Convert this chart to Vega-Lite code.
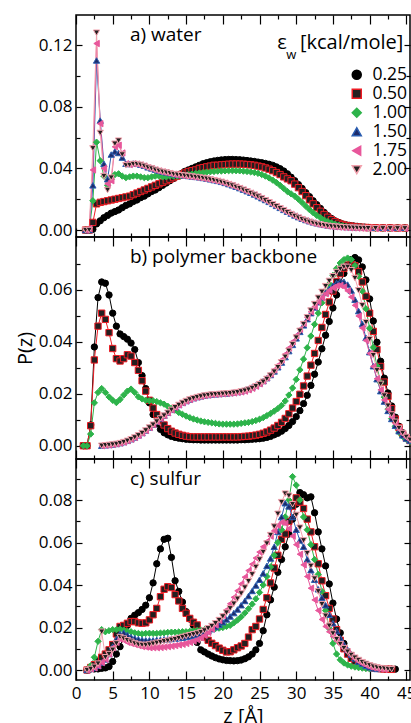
{
"$schema": "https://vega.github.io/schema/vega-lite/v6.json",
"background": "white",
"padding": {"left": 14, "top": 13, "right": 0, "bottom": 0},
"spacing": 0,
"bounds": "flush",
"config": {
  "font": "Open Sans",
  "view": {"stroke": "black", "strokeWidth": 1.5},
  "axis": {"domain": false, "grid": false, "tickColor": "black", "tickWidth": 1.2, "labelColor": "black", "labelFontSize": 17, "labelFont": "Open Sans", "titleColor": "black", "titleFontWeight": "normal", "titleFont": "Open Sans", "titleFontSize": 20, "labelOverlap": false, "labelFlush": false, "labelBound": false},
  "legend": {"orient": "none", "legendX": 272, "legendY": 51, "title": null, "symbolSize": 81, "symbolStrokeWidth": 1.5, "labelOffset": 7, "labelFontSize": 17.5, "labelFont": "Open Sans", "labelColor": "black", "rowPadding": 0, "padding": 0, "symbolOpacity": 1},
  "text": {"font": "Open Sans", "color": "black"}
},
"datasets": {
"a": [
{"s":"0.25","z":1.3,"v":0},{"s":"0.25","z":1.8,"v":0},{"s":"0.25","z":2.3,"v":0.0005},{"s":"0.25","z":2.8,"v":0.004},{"s":"0.25","z":3.3,"v":0.006},{"s":"0.25","z":3.8,"v":0.008},{"s":"0.25","z":4.3,"v":0.0095},{"s":"0.25","z":4.8,"v":0.011},{"s":"0.25","z":5.3,"v":0.012},{"s":"0.25","z":5.8,"v":0.013},{"s":"0.25","z":6.3,"v":0.0145},{"s":"0.25","z":6.8,"v":0.016},{"s":"0.25","z":7.3,"v":0.017},{"s":"0.25","z":7.8,"v":0.0185},{"s":"0.25","z":8.3,"v":0.0195},{"s":"0.25","z":8.8,"v":0.021},{"s":"0.25","z":9.3,"v":0.022},{"s":"0.25","z":9.8,"v":0.0235},{"s":"0.25","z":10.3,"v":0.025},{"s":"0.25","z":10.8,"v":0.026},{"s":"0.25","z":11.3,"v":0.0275},{"s":"0.25","z":11.8,"v":0.029},{"s":"0.25","z":12.3,"v":0.0305},{"s":"0.25","z":12.8,"v":0.032},{"s":"0.25","z":13.3,"v":0.0335},{"s":"0.25","z":13.8,"v":0.035},{"s":"0.25","z":14.3,"v":0.0365},{"s":"0.25","z":14.8,"v":0.038},{"s":"0.25","z":15.3,"v":0.039},{"s":"0.25","z":15.8,"v":0.04},{"s":"0.25","z":16.3,"v":0.041},{"s":"0.25","z":16.8,"v":0.042},{"s":"0.25","z":17.3,"v":0.043},{"s":"0.25","z":17.8,"v":0.0437},{"s":"0.25","z":18.3,"v":0.0443},{"s":"0.25","z":18.8,"v":0.0448},{"s":"0.25","z":19.3,"v":0.0452},{"s":"0.25","z":19.8,"v":0.0455},{"s":"0.25","z":20.3,"v":0.0457},{"s":"0.25","z":20.8,"v":0.0458},{"s":"0.25","z":21.3,"v":0.0458},{"s":"0.25","z":21.8,"v":0.0457},{"s":"0.25","z":22.3,"v":0.0456},{"s":"0.25","z":22.8,"v":0.0454},{"s":"0.25","z":23.3,"v":0.0451},{"s":"0.25","z":23.8,"v":0.0448},{"s":"0.25","z":24.3,"v":0.0445},{"s":"0.25","z":24.8,"v":0.0441},{"s":"0.25","z":25.3,"v":0.0437},{"s":"0.25","z":25.8,"v":0.0432},{"s":"0.25","z":26.3,"v":0.0427},{"s":"0.25","z":26.8,"v":0.042},{"s":"0.25","z":27.3,"v":0.041},{"s":"0.25","z":27.8,"v":0.0398},{"s":"0.25","z":28.3,"v":0.0383},{"s":"0.25","z":28.8,"v":0.0365},{"s":"0.25","z":29.3,"v":0.0343},{"s":"0.25","z":29.8,"v":0.032},{"s":"0.25","z":30.3,"v":0.0295},{"s":"0.25","z":30.8,"v":0.027},{"s":"0.25","z":31.3,"v":0.0243},{"s":"0.25","z":31.8,"v":0.0217},{"s":"0.25","z":32.3,"v":0.019},{"s":"0.25","z":32.8,"v":0.0165},{"s":"0.25","z":33.3,"v":0.014},{"s":"0.25","z":33.8,"v":0.0115},{"s":"0.25","z":34.3,"v":0.0093},{"s":"0.25","z":34.8,"v":0.0075},{"s":"0.25","z":35.3,"v":0.006},{"s":"0.25","z":35.8,"v":0.0049},{"s":"0.25","z":36.3,"v":0.004},{"s":"0.25","z":36.8,"v":0.0034},{"s":"0.25","z":37.3,"v":0.003},{"s":"0.25","z":37.8,"v":0.0027},{"s":"0.25","z":38.3,"v":0.0024},{"s":"0.25","z":38.8,"v":0.0021},{"s":"0.25","z":39.3,"v":0.0019},{"s":"0.25","z":39.8,"v":0.0017},{"s":"0.25","z":40.8,"v":0.0015},{"s":"0.25","z":41.8,"v":0.0014},{"s":"0.25","z":42.8,"v":0.0014},{"s":"0.25","z":43.8,"v":0.0014},{"s":"0.25","z":44.8,"v":0.0014},
{"s":"0.50","z":1.3,"v":0},{"s":"0.50","z":1.8,"v":0},{"s":"0.50","z":2.3,"v":0.005},{"s":"0.50","z":2.8,"v":0.017},{"s":"0.50","z":3.3,"v":0.018},{"s":"0.50","z":3.8,"v":0.0185},{"s":"0.50","z":4.3,"v":0.019},{"s":"0.50","z":4.8,"v":0.0195},{"s":"0.50","z":5.3,"v":0.02},{"s":"0.50","z":5.8,"v":0.0205},{"s":"0.50","z":6.3,"v":0.021},{"s":"0.50","z":6.8,"v":0.0215},{"s":"0.50","z":7.3,"v":0.022},{"s":"0.50","z":7.8,"v":0.023},{"s":"0.50","z":8.3,"v":0.024},{"s":"0.50","z":8.8,"v":0.025},{"s":"0.50","z":9.3,"v":0.026},{"s":"0.50","z":9.8,"v":0.027},{"s":"0.50","z":10.3,"v":0.028},{"s":"0.50","z":10.8,"v":0.029},{"s":"0.50","z":11.3,"v":0.03},{"s":"0.50","z":11.8,"v":0.031},{"s":"0.50","z":12.3,"v":0.032},{"s":"0.50","z":12.8,"v":0.033},{"s":"0.50","z":13.3,"v":0.034},{"s":"0.50","z":13.8,"v":0.035},{"s":"0.50","z":14.3,"v":0.036},{"s":"0.50","z":14.8,"v":0.037},{"s":"0.50","z":15.3,"v":0.038},{"s":"0.50","z":15.8,"v":0.0385},{"s":"0.50","z":16.3,"v":0.039},{"s":"0.50","z":16.8,"v":0.04},{"s":"0.50","z":17.3,"v":0.0405},{"s":"0.50","z":17.8,"v":0.041},{"s":"0.50","z":18.3,"v":0.0415},{"s":"0.50","z":18.8,"v":0.042},{"s":"0.50","z":19.3,"v":0.042},{"s":"0.50","z":19.8,"v":0.0423},{"s":"0.50","z":20.3,"v":0.0425},{"s":"0.50","z":20.8,"v":0.0427},{"s":"0.50","z":21.3,"v":0.0428},{"s":"0.50","z":21.8,"v":0.0428},{"s":"0.50","z":22.3,"v":0.0428},{"s":"0.50","z":22.8,"v":0.0427},{"s":"0.50","z":23.3,"v":0.0425},{"s":"0.50","z":23.8,"v":0.0423},{"s":"0.50","z":24.3,"v":0.042},{"s":"0.50","z":24.8,"v":0.0415},{"s":"0.50","z":25.3,"v":0.041},{"s":"0.50","z":25.8,"v":0.0403},{"s":"0.50","z":26.3,"v":0.0395},{"s":"0.50","z":26.8,"v":0.0385},{"s":"0.50","z":27.3,"v":0.0373},{"s":"0.50","z":27.8,"v":0.036},{"s":"0.50","z":28.3,"v":0.0345},{"s":"0.50","z":28.8,"v":0.0332},{"s":"0.50","z":29.3,"v":0.032},{"s":"0.50","z":29.8,"v":0.0298},{"s":"0.50","z":30.3,"v":0.0275},{"s":"0.50","z":30.8,"v":0.025},{"s":"0.50","z":31.3,"v":0.0223},{"s":"0.50","z":31.8,"v":0.0196},{"s":"0.50","z":32.3,"v":0.017},{"s":"0.50","z":32.8,"v":0.0145},{"s":"0.50","z":33.3,"v":0.0122},{"s":"0.50","z":33.8,"v":0.0101},{"s":"0.50","z":34.3,"v":0.0083},{"s":"0.50","z":34.8,"v":0.0067},{"s":"0.50","z":35.3,"v":0.0054},{"s":"0.50","z":35.8,"v":0.0044},{"s":"0.50","z":36.3,"v":0.0036},{"s":"0.50","z":36.8,"v":0.003},{"s":"0.50","z":37.3,"v":0.0026},{"s":"0.50","z":37.8,"v":0.0023},{"s":"0.50","z":38.3,"v":0.002},{"s":"0.50","z":38.8,"v":0.0018},{"s":"0.50","z":39.3,"v":0.0017},{"s":"0.50","z":39.8,"v":0.0016},{"s":"0.50","z":40.8,"v":0.0015},{"s":"0.50","z":41.8,"v":0.0014},{"s":"0.50","z":42.8,"v":0.0014},{"s":"0.50","z":43.8,"v":0.0013},{"s":"0.50","z":44.8,"v":0.0013},
{"s":"1.00","z":1.3,"v":0},{"s":"1.00","z":1.8,"v":0},{"s":"1.00","z":2.3,"v":0.019},{"s":"1.00","z":2.8,"v":0.057},{"s":"1.00","z":3.3,"v":0.045},{"s":"1.00","z":3.8,"v":0.035},{"s":"1.00","z":4.3,"v":0.029},{"s":"1.00","z":4.8,"v":0.033},{"s":"1.00","z":5.3,"v":0.036},{"s":"1.00","z":5.8,"v":0.0365},{"s":"1.00","z":6.3,"v":0.035},{"s":"1.00","z":6.8,"v":0.034},{"s":"1.00","z":7.3,"v":0.0345},{"s":"1.00","z":7.8,"v":0.035},{"s":"1.00","z":8.3,"v":0.035},{"s":"1.00","z":8.8,"v":0.0345},{"s":"1.00","z":9.3,"v":0.034},{"s":"1.00","z":9.8,"v":0.034},{"s":"1.00","z":10.3,"v":0.0345},{"s":"1.00","z":10.8,"v":0.035},{"s":"1.00","z":11.3,"v":0.035},{"s":"1.00","z":11.8,"v":0.0345},{"s":"1.00","z":12.3,"v":0.0345},{"s":"1.00","z":12.8,"v":0.035},{"s":"1.00","z":13.3,"v":0.035},{"s":"1.00","z":13.8,"v":0.035},{"s":"1.00","z":14.3,"v":0.0352},{"s":"1.00","z":14.8,"v":0.0355},{"s":"1.00","z":15.3,"v":0.036},{"s":"1.00","z":15.8,"v":0.0363},{"s":"1.00","z":16.3,"v":0.0367},{"s":"1.00","z":16.8,"v":0.037},{"s":"1.00","z":17.3,"v":0.0373},{"s":"1.00","z":17.8,"v":0.0376},{"s":"1.00","z":18.3,"v":0.0378},{"s":"1.00","z":18.8,"v":0.038},{"s":"1.00","z":19.3,"v":0.0382},{"s":"1.00","z":19.8,"v":0.0383},{"s":"1.00","z":20.3,"v":0.0384},{"s":"1.00","z":20.8,"v":0.0385},{"s":"1.00","z":21.3,"v":0.0385},{"s":"1.00","z":21.8,"v":0.0385},{"s":"1.00","z":22.3,"v":0.0384},{"s":"1.00","z":22.8,"v":0.0382},{"s":"1.00","z":23.3,"v":0.038},{"s":"1.00","z":23.8,"v":0.0377},{"s":"1.00","z":24.3,"v":0.0373},{"s":"1.00","z":24.8,"v":0.0368},{"s":"1.00","z":25.3,"v":0.036},{"s":"1.00","z":25.8,"v":0.035},{"s":"1.00","z":26.3,"v":0.0338},{"s":"1.00","z":26.8,"v":0.0324},{"s":"1.00","z":27.3,"v":0.0308},{"s":"1.00","z":27.8,"v":0.029},{"s":"1.00","z":28.3,"v":0.027},{"s":"1.00","z":28.8,"v":0.025},{"s":"1.00","z":29.3,"v":0.0235},{"s":"1.00","z":29.8,"v":0.022},{"s":"1.00","z":30.3,"v":0.02},{"s":"1.00","z":30.8,"v":0.0178},{"s":"1.00","z":31.3,"v":0.0155},{"s":"1.00","z":31.8,"v":0.0133},{"s":"1.00","z":32.3,"v":0.0113},{"s":"1.00","z":32.8,"v":0.0095},{"s":"1.00","z":33.3,"v":0.008},{"s":"1.00","z":33.8,"v":0.0066},{"s":"1.00","z":34.3,"v":0.0055},{"s":"1.00","z":34.8,"v":0.0046},{"s":"1.00","z":35.3,"v":0.0038},{"s":"1.00","z":35.8,"v":0.0032},{"s":"1.00","z":36.3,"v":0.0027},{"s":"1.00","z":36.8,"v":0.0023},{"s":"1.00","z":37.3,"v":0.002},{"s":"1.00","z":37.8,"v":0.0018},{"s":"1.00","z":38.3,"v":0.0016},{"s":"1.00","z":38.8,"v":0.0015},{"s":"1.00","z":39.3,"v":0.0014},{"s":"1.00","z":39.8,"v":0.0013},{"s":"1.00","z":40.8,"v":0.0012},{"s":"1.00","z":41.8,"v":0.0012},{"s":"1.00","z":42.8,"v":0.0012},{"s":"1.00","z":43.8,"v":0.0012},{"s":"1.00","z":44.8,"v":0.0012},
{"s":"1.50","z":1.3,"v":0},{"s":"1.50","z":1.8,"v":0},{"s":"1.50","z":2.3,"v":0.029},{"s":"1.50","z":2.8,"v":0.11},{"s":"1.50","z":3.3,"v":0.071},{"s":"1.50","z":3.8,"v":0.043},{"s":"1.50","z":4.3,"v":0.033},{"s":"1.50","z":4.8,"v":0.049},{"s":"1.50","z":5.3,"v":0.051},{"s":"1.50","z":5.8,"v":0.05},{"s":"1.50","z":6.3,"v":0.047},{"s":"1.50","z":6.8,"v":0.043},{"s":"1.50","z":7.3,"v":0.0428},{"s":"1.50","z":7.8,"v":0.0432},{"s":"1.50","z":8.3,"v":0.043},{"s":"1.50","z":8.8,"v":0.0424},{"s":"1.50","z":9.3,"v":0.0417},{"s":"1.50","z":9.8,"v":0.0407},{"s":"1.50","z":10.3,"v":0.04},{"s":"1.50","z":10.8,"v":0.0392},{"s":"1.50","z":11.3,"v":0.0385},{"s":"1.50","z":11.8,"v":0.0379},{"s":"1.50","z":12.3,"v":0.0374},{"s":"1.50","z":12.8,"v":0.0369},{"s":"1.50","z":13.3,"v":0.0364},{"s":"1.50","z":13.8,"v":0.036},{"s":"1.50","z":14.3,"v":0.0357},{"s":"1.50","z":14.8,"v":0.0354},{"s":"1.50","z":15.3,"v":0.0351},{"s":"1.50","z":15.8,"v":0.0348},{"s":"1.50","z":16.3,"v":0.0345},{"s":"1.50","z":16.8,"v":0.0342},{"s":"1.50","z":17.3,"v":0.0338},{"s":"1.50","z":17.8,"v":0.0334},{"s":"1.50","z":18.3,"v":0.0329},{"s":"1.50","z":18.8,"v":0.0324},{"s":"1.50","z":19.3,"v":0.0319},{"s":"1.50","z":19.8,"v":0.0313},{"s":"1.50","z":20.3,"v":0.0306},{"s":"1.50","z":20.8,"v":0.0298},{"s":"1.50","z":21.3,"v":0.029},{"s":"1.50","z":21.8,"v":0.0281},{"s":"1.50","z":22.3,"v":0.0272},{"s":"1.50","z":22.8,"v":0.0262},{"s":"1.50","z":23.3,"v":0.0252},{"s":"1.50","z":23.8,"v":0.0242},{"s":"1.50","z":24.3,"v":0.0231},{"s":"1.50","z":24.8,"v":0.0219},{"s":"1.50","z":25.3,"v":0.0207},{"s":"1.50","z":25.8,"v":0.0195},{"s":"1.50","z":26.3,"v":0.0183},{"s":"1.50","z":26.8,"v":0.017},{"s":"1.50","z":27.3,"v":0.0157},{"s":"1.50","z":27.8,"v":0.0144},{"s":"1.50","z":28.3,"v":0.0131},{"s":"1.50","z":28.8,"v":0.0119},{"s":"1.50","z":29.3,"v":0.0107},{"s":"1.50","z":29.8,"v":0.0095},{"s":"1.50","z":30.3,"v":0.0084},{"s":"1.50","z":30.8,"v":0.0074},{"s":"1.50","z":31.3,"v":0.0065},{"s":"1.50","z":31.8,"v":0.0057},{"s":"1.50","z":32.3,"v":0.005},{"s":"1.50","z":32.8,"v":0.0044},{"s":"1.50","z":33.3,"v":0.0039},{"s":"1.50","z":33.8,"v":0.0034},{"s":"1.50","z":34.3,"v":0.003},{"s":"1.50","z":34.8,"v":0.0027},{"s":"1.50","z":35.3,"v":0.0025},{"s":"1.50","z":35.8,"v":0.0023},{"s":"1.50","z":36.3,"v":0.0021},{"s":"1.50","z":36.8,"v":0.002},{"s":"1.50","z":37.3,"v":0.0019},{"s":"1.50","z":37.8,"v":0.0018},{"s":"1.50","z":38.3,"v":0.0017},{"s":"1.50","z":38.8,"v":0.0016},{"s":"1.50","z":39.3,"v":0.0016},{"s":"1.50","z":39.8,"v":0.0015},{"s":"1.50","z":40.8,"v":0.0015},{"s":"1.50","z":41.8,"v":0.0015},{"s":"1.50","z":42.8,"v":0.0015},{"s":"1.50","z":43.8,"v":0.0015},{"s":"1.50","z":44.8,"v":0.0015},
{"s":"1.75","z":1.3,"v":0},{"s":"1.75","z":1.8,"v":0.001},{"s":"1.75","z":2.3,"v":0.039},{"s":"1.75","z":2.8,"v":0.121},{"s":"1.75","z":3.3,"v":0.069},{"s":"1.75","z":3.8,"v":0.04},{"s":"1.75","z":4.3,"v":0.03},{"s":"1.75","z":4.8,"v":0.032},{"s":"1.75","z":5.3,"v":0.054},{"s":"1.75","z":5.8,"v":0.055},{"s":"1.75","z":6.3,"v":0.05},{"s":"1.75","z":6.8,"v":0.043},{"s":"1.75","z":7.3,"v":0.0425},{"s":"1.75","z":7.8,"v":0.043},{"s":"1.75","z":8.3,"v":0.0428},{"s":"1.75","z":8.8,"v":0.0422},{"s":"1.75","z":9.3,"v":0.0415},{"s":"1.75","z":9.8,"v":0.0405},{"s":"1.75","z":10.3,"v":0.0398},{"s":"1.75","z":10.8,"v":0.039},{"s":"1.75","z":11.3,"v":0.0383},{"s":"1.75","z":11.8,"v":0.0377},{"s":"1.75","z":12.3,"v":0.0372},{"s":"1.75","z":12.8,"v":0.0367},{"s":"1.75","z":13.3,"v":0.0362},{"s":"1.75","z":13.8,"v":0.0358},{"s":"1.75","z":14.3,"v":0.0355},{"s":"1.75","z":14.8,"v":0.0352},{"s":"1.75","z":15.3,"v":0.0349},{"s":"1.75","z":15.8,"v":0.0346},{"s":"1.75","z":16.3,"v":0.0343},{"s":"1.75","z":16.8,"v":0.034},{"s":"1.75","z":17.3,"v":0.0336},{"s":"1.75","z":17.8,"v":0.0332},{"s":"1.75","z":18.3,"v":0.0327},{"s":"1.75","z":18.8,"v":0.0322},{"s":"1.75","z":19.3,"v":0.0317},{"s":"1.75","z":19.8,"v":0.0311},{"s":"1.75","z":20.3,"v":0.0304},{"s":"1.75","z":20.8,"v":0.0296},{"s":"1.75","z":21.3,"v":0.0288},{"s":"1.75","z":21.8,"v":0.0279},{"s":"1.75","z":22.3,"v":0.027},{"s":"1.75","z":22.8,"v":0.026},{"s":"1.75","z":23.3,"v":0.025},{"s":"1.75","z":23.8,"v":0.0239},{"s":"1.75","z":24.3,"v":0.0228},{"s":"1.75","z":24.8,"v":0.0216},{"s":"1.75","z":25.3,"v":0.0204},{"s":"1.75","z":25.8,"v":0.0192},{"s":"1.75","z":26.3,"v":0.0179},{"s":"1.75","z":26.8,"v":0.0166},{"s":"1.75","z":27.3,"v":0.0153},{"s":"1.75","z":27.8,"v":0.014},{"s":"1.75","z":28.3,"v":0.0127},{"s":"1.75","z":28.8,"v":0.0114},{"s":"1.75","z":29.3,"v":0.0102},{"s":"1.75","z":29.8,"v":0.009},{"s":"1.75","z":30.3,"v":0.0079},{"s":"1.75","z":30.8,"v":0.0069},{"s":"1.75","z":31.3,"v":0.006},{"s":"1.75","z":31.8,"v":0.0052},{"s":"1.75","z":32.3,"v":0.0045},{"s":"1.75","z":32.8,"v":0.0039},{"s":"1.75","z":33.3,"v":0.0034},{"s":"1.75","z":33.8,"v":0.003},{"s":"1.75","z":34.3,"v":0.0026},{"s":"1.75","z":34.8,"v":0.0023},{"s":"1.75","z":35.3,"v":0.0021},{"s":"1.75","z":35.8,"v":0.0019},{"s":"1.75","z":36.3,"v":0.0017},{"s":"1.75","z":36.8,"v":0.0016},{"s":"1.75","z":37.3,"v":0.0015},{"s":"1.75","z":37.8,"v":0.0014},{"s":"1.75","z":38.3,"v":0.0013},{"s":"1.75","z":38.8,"v":0.0013},{"s":"1.75","z":39.3,"v":0.0012},{"s":"1.75","z":39.8,"v":0.0012},{"s":"1.75","z":40.8,"v":0.0011},{"s":"1.75","z":41.8,"v":0.0011},{"s":"1.75","z":42.8,"v":0.0011},{"s":"1.75","z":43.8,"v":0.0011},{"s":"1.75","z":44.8,"v":0.0011},
{"s":"2.00","z":1.3,"v":0},{"s":"2.00","z":1.8,"v":0},{"s":"2.00","z":2.3,"v":0.053},{"s":"2.00","z":2.8,"v":0.128},{"s":"2.00","z":3.3,"v":0.063},{"s":"2.00","z":3.8,"v":0.035},{"s":"2.00","z":4.3,"v":0.026},{"s":"2.00","z":4.8,"v":0.034},{"s":"2.00","z":5.3,"v":0.056},{"s":"2.00","z":5.8,"v":0.058},{"s":"2.00","z":6.3,"v":0.049},{"s":"2.00","z":6.8,"v":0.042},{"s":"2.00","z":7.3,"v":0.0422},{"s":"2.00","z":7.8,"v":0.0428},{"s":"2.00","z":8.3,"v":0.0428},{"s":"2.00","z":8.8,"v":0.0423},{"s":"2.00","z":9.3,"v":0.0416},{"s":"2.00","z":9.8,"v":0.0406},{"s":"2.00","z":10.3,"v":0.0399},{"s":"2.00","z":10.8,"v":0.0391},{"s":"2.00","z":11.3,"v":0.0384},{"s":"2.00","z":11.8,"v":0.0378},{"s":"2.00","z":12.3,"v":0.0373},{"s":"2.00","z":12.8,"v":0.0368},{"s":"2.00","z":13.3,"v":0.0363},{"s":"2.00","z":13.8,"v":0.0359},{"s":"2.00","z":14.3,"v":0.0356},{"s":"2.00","z":14.8,"v":0.0353},{"s":"2.00","z":15.3,"v":0.035},{"s":"2.00","z":15.8,"v":0.0347},{"s":"2.00","z":16.3,"v":0.0344},{"s":"2.00","z":16.8,"v":0.0341},{"s":"2.00","z":17.3,"v":0.0337},{"s":"2.00","z":17.8,"v":0.0333},{"s":"2.00","z":18.3,"v":0.0328},{"s":"2.00","z":18.8,"v":0.0323},{"s":"2.00","z":19.3,"v":0.0318},{"s":"2.00","z":19.8,"v":0.0312},{"s":"2.00","z":20.3,"v":0.0305},{"s":"2.00","z":20.8,"v":0.0297},{"s":"2.00","z":21.3,"v":0.0289},{"s":"2.00","z":21.8,"v":0.028},{"s":"2.00","z":22.3,"v":0.0271},{"s":"2.00","z":22.8,"v":0.0261},{"s":"2.00","z":23.3,"v":0.0251},{"s":"2.00","z":23.8,"v":0.024},{"s":"2.00","z":24.3,"v":0.0229},{"s":"2.00","z":24.8,"v":0.0217},{"s":"2.00","z":25.3,"v":0.0205},{"s":"2.00","z":25.8,"v":0.0193},{"s":"2.00","z":26.3,"v":0.018},{"s":"2.00","z":26.8,"v":0.0167},{"s":"2.00","z":27.3,"v":0.0154},{"s":"2.00","z":27.8,"v":0.0141},{"s":"2.00","z":28.3,"v":0.0128},{"s":"2.00","z":28.8,"v":0.0115},{"s":"2.00","z":29.3,"v":0.0103},{"s":"2.00","z":29.8,"v":0.0091},{"s":"2.00","z":30.3,"v":0.008},{"s":"2.00","z":30.8,"v":0.007},{"s":"2.00","z":31.3,"v":0.0061},{"s":"2.00","z":31.8,"v":0.0053},{"s":"2.00","z":32.3,"v":0.0046},{"s":"2.00","z":32.8,"v":0.004},{"s":"2.00","z":33.3,"v":0.0035},{"s":"2.00","z":33.8,"v":0.0031},{"s":"2.00","z":34.3,"v":0.0027},{"s":"2.00","z":34.8,"v":0.0024},{"s":"2.00","z":35.3,"v":0.0022},{"s":"2.00","z":35.8,"v":0.002},{"s":"2.00","z":36.3,"v":0.0018},{"s":"2.00","z":36.8,"v":0.0017},{"s":"2.00","z":37.3,"v":0.0016},{"s":"2.00","z":37.8,"v":0.0015},{"s":"2.00","z":38.3,"v":0.0014},{"s":"2.00","z":38.8,"v":0.0013},{"s":"2.00","z":39.3,"v":0.0013},{"s":"2.00","z":39.8,"v":0.0012},{"s":"2.00","z":40.8,"v":0.0012},{"s":"2.00","z":41.8,"v":0.0011},{"s":"2.00","z":42.8,"v":0.0011},{"s":"2.00","z":43.8,"v":0.0011},{"s":"2.00","z":44.8,"v":0.0011}
],
"b": [
{"s":"0.25","z":1,"v":0},{"s":"0.25","z":1.5,"v":0},{"s":"0.25","z":2,"v":0.008},{"s":"0.25","z":2.5,"v":0.038},{"s":"0.25","z":3,"v":0.057},{"s":"0.25","z":3.5,"v":0.063},{"s":"0.25","z":4,"v":0.0625},{"s":"0.25","z":4.5,"v":0.058},{"s":"0.25","z":5,"v":0.051},{"s":"0.25","z":5.5,"v":0.046},{"s":"0.25","z":6,"v":0.043},{"s":"0.25","z":6.5,"v":0.042},{"s":"0.25","z":7,"v":0.041},{"s":"0.25","z":7.5,"v":0.0395},{"s":"0.25","z":8,"v":0.037},{"s":"0.25","z":8.5,"v":0.032},{"s":"0.25","z":9,"v":0.027},{"s":"0.25","z":9.5,"v":0.022},{"s":"0.25","z":10,"v":0.0165},{"s":"0.25","z":10.5,"v":0.012},{"s":"0.25","z":11,"v":0.0085},{"s":"0.25","z":11.5,"v":0.0063},{"s":"0.25","z":12,"v":0.005},{"s":"0.25","z":12.5,"v":0.0042},{"s":"0.25","z":13,"v":0.0036},{"s":"0.25","z":13.5,"v":0.0032},{"s":"0.25","z":14,"v":0.0029},{"s":"0.25","z":14.5,"v":0.0027},{"s":"0.25","z":15,"v":0.0025},{"s":"0.25","z":15.5,"v":0.0024},{"s":"0.25","z":16,"v":0.0023},{"s":"0.25","z":16.5,"v":0.0023},{"s":"0.25","z":17,"v":0.0022},{"s":"0.25","z":17.5,"v":0.0022},{"s":"0.25","z":18,"v":0.0022},{"s":"0.25","z":18.5,"v":0.0022},{"s":"0.25","z":19,"v":0.0022},{"s":"0.25","z":19.5,"v":0.0022},{"s":"0.25","z":20,"v":0.0022},{"s":"0.25","z":20.5,"v":0.0022},{"s":"0.25","z":21,"v":0.0022},{"s":"0.25","z":21.5,"v":0.0022},{"s":"0.25","z":22,"v":0.0022},{"s":"0.25","z":22.5,"v":0.0023},{"s":"0.25","z":23,"v":0.0023},{"s":"0.25","z":23.5,"v":0.0024},{"s":"0.25","z":24,"v":0.0025},{"s":"0.25","z":24.5,"v":0.0026},{"s":"0.25","z":25,"v":0.0027},{"s":"0.25","z":25.5,"v":0.0029},{"s":"0.25","z":26,"v":0.0032},{"s":"0.25","z":26.5,"v":0.0036},{"s":"0.25","z":27,"v":0.0042},{"s":"0.25","z":27.5,"v":0.0048},{"s":"0.25","z":28,"v":0.0056},{"s":"0.25","z":28.5,"v":0.0066},{"s":"0.25","z":29,"v":0.0078},{"s":"0.25","z":29.5,"v":0.0093},{"s":"0.25","z":30,"v":0.0112},{"s":"0.25","z":30.5,"v":0.0135},{"s":"0.25","z":31,"v":0.0162},{"s":"0.25","z":31.5,"v":0.0194},{"s":"0.25","z":32,"v":0.0232},{"s":"0.25","z":32.5,"v":0.0275},{"s":"0.25","z":33,"v":0.0322},{"s":"0.25","z":33.5,"v":0.0373},{"s":"0.25","z":34,"v":0.0425},{"s":"0.25","z":34.5,"v":0.0478},{"s":"0.25","z":35,"v":0.053},{"s":"0.25","z":35.5,"v":0.058},{"s":"0.25","z":36,"v":0.0625},{"s":"0.25","z":36.5,"v":0.0663},{"s":"0.25","z":37,"v":0.0695},{"s":"0.25","z":37.5,"v":0.0716},{"s":"0.25","z":38,"v":0.0724},{"s":"0.25","z":38.5,"v":0.0715},{"s":"0.25","z":39,"v":0.0688},{"s":"0.25","z":39.5,"v":0.0638},{"s":"0.25","z":40,"v":0.0565},{"s":"0.25","z":40.5,"v":0.048},{"s":"0.25","z":41,"v":0.0398},{"s":"0.25","z":41.5,"v":0.0325},{"s":"0.25","z":42,"v":0.026},{"s":"0.25","z":42.5,"v":0.0203},{"s":"0.25","z":43,"v":0.0153},{"s":"0.25","z":43.5,"v":0.011},{"s":"0.25","z":44,"v":0.0075},{"s":"0.25","z":44.5,"v":0.005},{"s":"0.25","z":45,"v":0.0032},{"s":"0.25","z":45.5,"v":0.002},
{"s":"0.50","z":1,"v":0},{"s":"0.50","z":1.5,"v":0},{"s":"0.50","z":2,"v":0.0077},{"s":"0.50","z":2.5,"v":0.033},{"s":"0.50","z":3,"v":0.046},{"s":"0.50","z":3.5,"v":0.051},{"s":"0.50","z":4,"v":0.0486},{"s":"0.50","z":4.5,"v":0.0435},{"s":"0.50","z":5,"v":0.0374},{"s":"0.50","z":5.5,"v":0.0335},{"s":"0.50","z":6,"v":0.0326},{"s":"0.50","z":6.5,"v":0.0335},{"s":"0.50","z":7,"v":0.035},{"s":"0.50","z":7.5,"v":0.0345},{"s":"0.50","z":8,"v":0.032},{"s":"0.50","z":8.5,"v":0.029},{"s":"0.50","z":9,"v":0.025},{"s":"0.50","z":9.5,"v":0.021},{"s":"0.50","z":10,"v":0.0175},{"s":"0.50","z":10.5,"v":0.0145},{"s":"0.50","z":11,"v":0.012},{"s":"0.50","z":11.5,"v":0.0098},{"s":"0.50","z":12,"v":0.008},{"s":"0.50","z":12.5,"v":0.0066},{"s":"0.50","z":13,"v":0.0056},{"s":"0.50","z":13.5,"v":0.0049},{"s":"0.50","z":14,"v":0.0044},{"s":"0.50","z":14.5,"v":0.004},{"s":"0.50","z":15,"v":0.0037},{"s":"0.50","z":15.5,"v":0.0035},{"s":"0.50","z":16,"v":0.0034},{"s":"0.50","z":16.5,"v":0.0034},{"s":"0.50","z":17,"v":0.0034},{"s":"0.50","z":17.5,"v":0.0034},{"s":"0.50","z":18,"v":0.0034},{"s":"0.50","z":18.5,"v":0.0034},{"s":"0.50","z":19,"v":0.0034},{"s":"0.50","z":19.5,"v":0.0034},{"s":"0.50","z":20,"v":0.0034},{"s":"0.50","z":20.5,"v":0.0034},{"s":"0.50","z":21,"v":0.0034},{"s":"0.50","z":21.5,"v":0.0034},{"s":"0.50","z":22,"v":0.0034},{"s":"0.50","z":22.5,"v":0.0035},{"s":"0.50","z":23,"v":0.0036},{"s":"0.50","z":23.5,"v":0.0037},{"s":"0.50","z":24,"v":0.0039},{"s":"0.50","z":24.5,"v":0.0041},{"s":"0.50","z":25,"v":0.0044},{"s":"0.50","z":25.5,"v":0.0048},{"s":"0.50","z":26,"v":0.0053},{"s":"0.50","z":26.5,"v":0.006},{"s":"0.50","z":27,"v":0.0068},{"s":"0.50","z":27.5,"v":0.0078},{"s":"0.50","z":28,"v":0.009},{"s":"0.50","z":28.5,"v":0.0105},{"s":"0.50","z":29,"v":0.0123},{"s":"0.50","z":29.5,"v":0.0145},{"s":"0.50","z":30,"v":0.017},{"s":"0.50","z":30.5,"v":0.0198},{"s":"0.50","z":31,"v":0.023},{"s":"0.50","z":31.5,"v":0.0268},{"s":"0.50","z":32,"v":0.031},{"s":"0.50","z":32.5,"v":0.0355},{"s":"0.50","z":33,"v":0.0405},{"s":"0.50","z":33.5,"v":0.0455},{"s":"0.50","z":34,"v":0.0505},{"s":"0.50","z":34.5,"v":0.0553},{"s":"0.50","z":35,"v":0.0595},{"s":"0.50","z":35.5,"v":0.0632},{"s":"0.50","z":36,"v":0.0662},{"s":"0.50","z":36.5,"v":0.0683},{"s":"0.50","z":37,"v":0.0695},{"s":"0.50","z":37.5,"v":0.0698},{"s":"0.50","z":38,"v":0.0692},{"s":"0.50","z":38.5,"v":0.067},{"s":"0.50","z":39,"v":0.063},{"s":"0.50","z":39.5,"v":0.0575},{"s":"0.50","z":40,"v":0.051},{"s":"0.50","z":40.5,"v":0.044},{"s":"0.50","z":41,"v":0.037},{"s":"0.50","z":41.5,"v":0.0305},{"s":"0.50","z":42,"v":0.0245},{"s":"0.50","z":42.5,"v":0.019},{"s":"0.50","z":43,"v":0.0143},{"s":"0.50","z":43.5,"v":0.0102},{"s":"0.50","z":44,"v":0.007},{"s":"0.50","z":44.5,"v":0.0046},{"s":"0.50","z":45,"v":0.003},{"s":"0.50","z":45.5,"v":0.002},
{"s":"1.00","z":1,"v":0},{"s":"1.00","z":1.5,"v":0},{"s":"1.00","z":2,"v":0.0045},{"s":"1.00","z":2.5,"v":0.0165},{"s":"1.00","z":3,"v":0.0205},{"s":"1.00","z":3.5,"v":0.022},{"s":"1.00","z":4,"v":0.0205},{"s":"1.00","z":4.5,"v":0.0188},{"s":"1.00","z":5,"v":0.0175},{"s":"1.00","z":5.5,"v":0.0166},{"s":"1.00","z":6,"v":0.0178},{"s":"1.00","z":6.5,"v":0.0195},{"s":"1.00","z":7,"v":0.021},{"s":"1.00","z":7.5,"v":0.0218},{"s":"1.00","z":8,"v":0.0205},{"s":"1.00","z":8.5,"v":0.0188},{"s":"1.00","z":9,"v":0.018},{"s":"1.00","z":9.5,"v":0.0175},{"s":"1.00","z":10,"v":0.0173},{"s":"1.00","z":10.5,"v":0.0173},{"s":"1.00","z":11,"v":0.017},{"s":"1.00","z":11.5,"v":0.0165},{"s":"1.00","z":12,"v":0.016},{"s":"1.00","z":12.5,"v":0.0152},{"s":"1.00","z":13,"v":0.0143},{"s":"1.00","z":13.5,"v":0.0137},{"s":"1.00","z":14,"v":0.0128},{"s":"1.00","z":14.5,"v":0.0121},{"s":"1.00","z":15,"v":0.0114},{"s":"1.00","z":15.5,"v":0.0108},{"s":"1.00","z":16,"v":0.0103},{"s":"1.00","z":16.5,"v":0.0099},{"s":"1.00","z":17,"v":0.0095},{"s":"1.00","z":17.5,"v":0.0092},{"s":"1.00","z":18,"v":0.009},{"s":"1.00","z":18.5,"v":0.0088},{"s":"1.00","z":19,"v":0.0086},{"s":"1.00","z":19.5,"v":0.0084},{"s":"1.00","z":20,"v":0.0083},{"s":"1.00","z":20.5,"v":0.0083},{"s":"1.00","z":21,"v":0.0083},{"s":"1.00","z":21.5,"v":0.0083},{"s":"1.00","z":22,"v":0.0084},{"s":"1.00","z":22.5,"v":0.0086},{"s":"1.00","z":23,"v":0.0088},{"s":"1.00","z":23.5,"v":0.009},{"s":"1.00","z":24,"v":0.0093},{"s":"1.00","z":24.5,"v":0.0097},{"s":"1.00","z":25,"v":0.0102},{"s":"1.00","z":25.5,"v":0.0108},{"s":"1.00","z":26,"v":0.0116},{"s":"1.00","z":26.5,"v":0.0124},{"s":"1.00","z":27,"v":0.0133},{"s":"1.00","z":27.5,"v":0.0143},{"s":"1.00","z":28,"v":0.0155},{"s":"1.00","z":28.5,"v":0.0172},{"s":"1.00","z":29,"v":0.0195},{"s":"1.00","z":29.5,"v":0.0222},{"s":"1.00","z":30,"v":0.0255},{"s":"1.00","z":30.5,"v":0.0292},{"s":"1.00","z":31,"v":0.0333},{"s":"1.00","z":31.5,"v":0.0377},{"s":"1.00","z":32,"v":0.0422},{"s":"1.00","z":32.5,"v":0.0467},{"s":"1.00","z":33,"v":0.051},{"s":"1.00","z":33.5,"v":0.055},{"s":"1.00","z":34,"v":0.0588},{"s":"1.00","z":34.5,"v":0.0623},{"s":"1.00","z":35,"v":0.0655},{"s":"1.00","z":35.5,"v":0.0682},{"s":"1.00","z":36,"v":0.0703},{"s":"1.00","z":36.5,"v":0.0716},{"s":"1.00","z":37,"v":0.0722},{"s":"1.00","z":37.5,"v":0.0716},{"s":"1.00","z":38,"v":0.0693},{"s":"1.00","z":38.5,"v":0.0652},{"s":"1.00","z":39,"v":0.0595},{"s":"1.00","z":39.5,"v":0.0527},{"s":"1.00","z":40,"v":0.0452},{"s":"1.00","z":40.5,"v":0.0378},{"s":"1.00","z":41,"v":0.0306},{"s":"1.00","z":41.5,"v":0.0242},{"s":"1.00","z":42,"v":0.0187},{"s":"1.00","z":42.5,"v":0.0141},{"s":"1.00","z":43,"v":0.0104},{"s":"1.00","z":43.5,"v":0.0075},{"s":"1.00","z":44,"v":0.0052},{"s":"1.00","z":44.5,"v":0.0036},{"s":"1.00","z":45,"v":0.0025},{"s":"1.00","z":45.5,"v":0.0017},
{"s":"1.50","z":3.5,"v":0},{"s":"1.50","z":4,"v":0.0002},{"s":"1.50","z":4.5,"v":0.0003},{"s":"1.50","z":5,"v":0.0005},{"s":"1.50","z":5.5,"v":0.0007},{"s":"1.50","z":6,"v":0.001},{"s":"1.50","z":6.5,"v":0.0014},{"s":"1.50","z":7,"v":0.0019},{"s":"1.50","z":7.5,"v":0.0025},{"s":"1.50","z":8,"v":0.0032},{"s":"1.50","z":8.5,"v":0.004},{"s":"1.50","z":9,"v":0.0049},{"s":"1.50","z":9.5,"v":0.0059},{"s":"1.50","z":10,"v":0.007},{"s":"1.50","z":10.5,"v":0.0081},{"s":"1.50","z":11,"v":0.0093},{"s":"1.50","z":11.5,"v":0.0105},{"s":"1.50","z":12,"v":0.0116},{"s":"1.50","z":12.5,"v":0.0127},{"s":"1.50","z":13,"v":0.0138},{"s":"1.50","z":13.5,"v":0.0148},{"s":"1.50","z":14,"v":0.0157},{"s":"1.50","z":14.5,"v":0.0165},{"s":"1.50","z":15,"v":0.0172},{"s":"1.50","z":15.5,"v":0.0178},{"s":"1.50","z":16,"v":0.0183},{"s":"1.50","z":16.5,"v":0.0187},{"s":"1.50","z":17,"v":0.019},{"s":"1.50","z":17.5,"v":0.0193},{"s":"1.50","z":18,"v":0.0195},{"s":"1.50","z":18.5,"v":0.0197},{"s":"1.50","z":19,"v":0.0198},{"s":"1.50","z":19.5,"v":0.0199},{"s":"1.50","z":20,"v":0.02},{"s":"1.50","z":20.5,"v":0.0201},{"s":"1.50","z":21,"v":0.0203},{"s":"1.50","z":21.5,"v":0.0205},{"s":"1.50","z":22,"v":0.0207},{"s":"1.50","z":22.5,"v":0.021},{"s":"1.50","z":23,"v":0.0214},{"s":"1.50","z":23.5,"v":0.0219},{"s":"1.50","z":24,"v":0.0225},{"s":"1.50","z":24.5,"v":0.0232},{"s":"1.50","z":25,"v":0.024},{"s":"1.50","z":25.5,"v":0.0249},{"s":"1.50","z":26,"v":0.026},{"s":"1.50","z":26.5,"v":0.0272},{"s":"1.50","z":27,"v":0.0286},{"s":"1.50","z":27.5,"v":0.0302},{"s":"1.50","z":28,"v":0.032},{"s":"1.50","z":28.5,"v":0.0341},{"s":"1.50","z":29,"v":0.0364},{"s":"1.50","z":29.5,"v":0.0388},{"s":"1.50","z":30,"v":0.0413},{"s":"1.50","z":30.5,"v":0.0438},{"s":"1.50","z":31,"v":0.0463},{"s":"1.50","z":31.5,"v":0.0487},{"s":"1.50","z":32,"v":0.051},{"s":"1.50","z":32.5,"v":0.0532},{"s":"1.50","z":33,"v":0.0552},{"s":"1.50","z":33.5,"v":0.0571},{"s":"1.50","z":34,"v":0.0588},{"s":"1.50","z":34.5,"v":0.0603},{"s":"1.50","z":35,"v":0.0616},{"s":"1.50","z":35.5,"v":0.0626},{"s":"1.50","z":36,"v":0.0632},{"s":"1.50","z":36.5,"v":0.0631},{"s":"1.50","z":37,"v":0.062},{"s":"1.50","z":37.5,"v":0.0597},{"s":"1.50","z":38,"v":0.0562},{"s":"1.50","z":38.5,"v":0.0518},{"s":"1.50","z":39,"v":0.0468},{"s":"1.50","z":39.5,"v":0.0415},{"s":"1.50","z":40,"v":0.036},{"s":"1.50","z":40.5,"v":0.0306},{"s":"1.50","z":41,"v":0.0256},{"s":"1.50","z":41.5,"v":0.021},{"s":"1.50","z":42,"v":0.017},{"s":"1.50","z":42.5,"v":0.0134},{"s":"1.50","z":43,"v":0.0103},{"s":"1.50","z":43.5,"v":0.0077},{"s":"1.50","z":44,"v":0.0056},{"s":"1.50","z":44.5,"v":0.004},{"s":"1.50","z":45,"v":0.0028},{"s":"1.50","z":45.5,"v":0.002},
{"s":"1.75","z":3.5,"v":0},{"s":"1.75","z":4,"v":0.0002},{"s":"1.75","z":4.5,"v":0.0003},{"s":"1.75","z":5,"v":0.0005},{"s":"1.75","z":5.5,"v":0.0007},{"s":"1.75","z":6,"v":0.001},{"s":"1.75","z":6.5,"v":0.0014},{"s":"1.75","z":7,"v":0.0019},{"s":"1.75","z":7.5,"v":0.0025},{"s":"1.75","z":8,"v":0.0032},{"s":"1.75","z":8.5,"v":0.004},{"s":"1.75","z":9,"v":0.0049},{"s":"1.75","z":9.5,"v":0.0059},{"s":"1.75","z":10,"v":0.007},{"s":"1.75","z":10.5,"v":0.0081},{"s":"1.75","z":11,"v":0.0093},{"s":"1.75","z":11.5,"v":0.0105},{"s":"1.75","z":12,"v":0.0116},{"s":"1.75","z":12.5,"v":0.0127},{"s":"1.75","z":13,"v":0.0138},{"s":"1.75","z":13.5,"v":0.0148},{"s":"1.75","z":14,"v":0.0157},{"s":"1.75","z":14.5,"v":0.0165},{"s":"1.75","z":15,"v":0.0172},{"s":"1.75","z":15.5,"v":0.0178},{"s":"1.75","z":16,"v":0.0183},{"s":"1.75","z":16.5,"v":0.0187},{"s":"1.75","z":17,"v":0.019},{"s":"1.75","z":17.5,"v":0.0193},{"s":"1.75","z":18,"v":0.0195},{"s":"1.75","z":18.5,"v":0.0197},{"s":"1.75","z":19,"v":0.0198},{"s":"1.75","z":19.5,"v":0.0199},{"s":"1.75","z":20,"v":0.02},{"s":"1.75","z":20.5,"v":0.0201},{"s":"1.75","z":21,"v":0.0202},{"s":"1.75","z":21.5,"v":0.0203},{"s":"1.75","z":22,"v":0.0205},{"s":"1.75","z":22.5,"v":0.0207},{"s":"1.75","z":23,"v":0.021},{"s":"1.75","z":23.5,"v":0.0215},{"s":"1.75","z":24,"v":0.0221},{"s":"1.75","z":24.5,"v":0.0229},{"s":"1.75","z":25,"v":0.0238},{"s":"1.75","z":25.5,"v":0.0249},{"s":"1.75","z":26,"v":0.0262},{"s":"1.75","z":26.5,"v":0.0276},{"s":"1.75","z":27,"v":0.0292},{"s":"1.75","z":27.5,"v":0.031},{"s":"1.75","z":28,"v":0.033},{"s":"1.75","z":28.5,"v":0.0352},{"s":"1.75","z":29,"v":0.0376},{"s":"1.75","z":29.5,"v":0.04},{"s":"1.75","z":30,"v":0.0424},{"s":"1.75","z":30.5,"v":0.0448},{"s":"1.75","z":31,"v":0.0471},{"s":"1.75","z":31.5,"v":0.0494},{"s":"1.75","z":32,"v":0.0515},{"s":"1.75","z":32.5,"v":0.0535},{"s":"1.75","z":33,"v":0.0553},{"s":"1.75","z":33.5,"v":0.057},{"s":"1.75","z":34,"v":0.0585},{"s":"1.75","z":34.5,"v":0.0598},{"s":"1.75","z":35,"v":0.0608},{"s":"1.75","z":35.5,"v":0.0615},{"s":"1.75","z":36,"v":0.0617},{"s":"1.75","z":36.5,"v":0.0611},{"s":"1.75","z":37,"v":0.0596},{"s":"1.75","z":37.5,"v":0.0572},{"s":"1.75","z":38,"v":0.054},{"s":"1.75","z":38.5,"v":0.0499},{"s":"1.75","z":39,"v":0.0453},{"s":"1.75","z":39.5,"v":0.0405},{"s":"1.75","z":40,"v":0.0355},{"s":"1.75","z":40.5,"v":0.0305},{"s":"1.75","z":41,"v":0.0258},{"s":"1.75","z":41.5,"v":0.0215},{"s":"1.75","z":42,"v":0.0176},{"s":"1.75","z":42.5,"v":0.0141},{"s":"1.75","z":43,"v":0.0111},{"s":"1.75","z":43.5,"v":0.0085},{"s":"1.75","z":44,"v":0.0063},{"s":"1.75","z":44.5,"v":0.0045},{"s":"1.75","z":45,"v":0.0032},{"s":"1.75","z":45.5,"v":0.0022},
{"s":"2.00","z":3.5,"v":0},{"s":"2.00","z":4,"v":0.0002},{"s":"2.00","z":4.5,"v":0.0003},{"s":"2.00","z":5,"v":0.0005},{"s":"2.00","z":5.5,"v":0.0007},{"s":"2.00","z":6,"v":0.001},{"s":"2.00","z":6.5,"v":0.0014},{"s":"2.00","z":7,"v":0.0019},{"s":"2.00","z":7.5,"v":0.0025},{"s":"2.00","z":8,"v":0.0032},{"s":"2.00","z":8.5,"v":0.004},{"s":"2.00","z":9,"v":0.0049},{"s":"2.00","z":9.5,"v":0.0059},{"s":"2.00","z":10,"v":0.007},{"s":"2.00","z":10.5,"v":0.0081},{"s":"2.00","z":11,"v":0.0093},{"s":"2.00","z":11.5,"v":0.0105},{"s":"2.00","z":12,"v":0.0116},{"s":"2.00","z":12.5,"v":0.0127},{"s":"2.00","z":13,"v":0.0138},{"s":"2.00","z":13.5,"v":0.0148},{"s":"2.00","z":14,"v":0.0157},{"s":"2.00","z":14.5,"v":0.0165},{"s":"2.00","z":15,"v":0.0172},{"s":"2.00","z":15.5,"v":0.0178},{"s":"2.00","z":16,"v":0.0183},{"s":"2.00","z":16.5,"v":0.0187},{"s":"2.00","z":17,"v":0.019},{"s":"2.00","z":17.5,"v":0.0193},{"s":"2.00","z":18,"v":0.0195},{"s":"2.00","z":18.5,"v":0.0197},{"s":"2.00","z":19,"v":0.0198},{"s":"2.00","z":19.5,"v":0.0199},{"s":"2.00","z":20,"v":0.02},{"s":"2.00","z":20.5,"v":0.0201},{"s":"2.00","z":21,"v":0.0202},{"s":"2.00","z":21.5,"v":0.0204},{"s":"2.00","z":22,"v":0.0206},{"s":"2.00","z":22.5,"v":0.0209},{"s":"2.00","z":23,"v":0.0212},{"s":"2.00","z":23.5,"v":0.0216},{"s":"2.00","z":24,"v":0.0222},{"s":"2.00","z":24.5,"v":0.0229},{"s":"2.00","z":25,"v":0.0237},{"s":"2.00","z":25.5,"v":0.0246},{"s":"2.00","z":26,"v":0.0257},{"s":"2.00","z":26.5,"v":0.027},{"s":"2.00","z":27,"v":0.0285},{"s":"2.00","z":27.5,"v":0.0302},{"s":"2.00","z":28,"v":0.0321},{"s":"2.00","z":28.5,"v":0.0342},{"s":"2.00","z":29,"v":0.0365},{"s":"2.00","z":29.5,"v":0.039},{"s":"2.00","z":30,"v":0.0416},{"s":"2.00","z":30.5,"v":0.0442},{"s":"2.00","z":31,"v":0.0468},{"s":"2.00","z":31.5,"v":0.0494},{"s":"2.00","z":32,"v":0.052},{"s":"2.00","z":32.5,"v":0.0545},{"s":"2.00","z":33,"v":0.0569},{"s":"2.00","z":33.5,"v":0.0592},{"s":"2.00","z":34,"v":0.0614},{"s":"2.00","z":34.5,"v":0.0634},{"s":"2.00","z":35,"v":0.0652},{"s":"2.00","z":35.5,"v":0.0668},{"s":"2.00","z":36,"v":0.068},{"s":"2.00","z":36.5,"v":0.0688},{"s":"2.00","z":37,"v":0.0688},{"s":"2.00","z":37.5,"v":0.0675},{"s":"2.00","z":38,"v":0.0645},{"s":"2.00","z":38.5,"v":0.0598},{"s":"2.00","z":39,"v":0.054},{"s":"2.00","z":39.5,"v":0.0475},{"s":"2.00","z":40,"v":0.041},{"s":"2.00","z":40.5,"v":0.0348},{"s":"2.00","z":41,"v":0.029},{"s":"2.00","z":41.5,"v":0.0238},{"s":"2.00","z":42,"v":0.0193},{"s":"2.00","z":42.5,"v":0.0154},{"s":"2.00","z":43,"v":0.012},{"s":"2.00","z":43.5,"v":0.0092},{"s":"2.00","z":44,"v":0.0068},{"s":"2.00","z":44.5,"v":0.0049},{"s":"2.00","z":45,"v":0.0034},{"s":"2.00","z":45.5,"v":0.0023}
],
"c": [
{"s":"0.25","z":1.5,"v":0},{"s":"0.25","z":2,"v":0.0005},{"s":"0.25","z":2.5,"v":0.0005},{"s":"0.25","z":3,"v":0.0005},{"s":"0.25","z":3.5,"v":0.0008},{"s":"0.25","z":4,"v":0.001},{"s":"0.25","z":4.5,"v":0.0016},{"s":"0.25","z":5,"v":0.004},{"s":"0.25","z":5.5,"v":0.0075},{"s":"0.25","z":6,"v":0.011},{"s":"0.25","z":6.5,"v":0.016},{"s":"0.25","z":7,"v":0.021},{"s":"0.25","z":7.5,"v":0.0243},{"s":"0.25","z":8,"v":0.0258},{"s":"0.25","z":8.5,"v":0.027},{"s":"0.25","z":9,"v":0.0285},{"s":"0.25","z":9.5,"v":0.0305},{"s":"0.25","z":10,"v":0.034},{"s":"0.25","z":10.5,"v":0.041},{"s":"0.25","z":11,"v":0.05},{"s":"0.25","z":11.5,"v":0.057},{"s":"0.25","z":12,"v":0.0615},{"s":"0.25","z":12.5,"v":0.062},{"s":"0.25","z":13,"v":0.053},{"s":"0.25","z":13.5,"v":0.042},{"s":"0.25","z":14,"v":0.037},{"s":"0.25","z":14.5,"v":0.032},{"s":"0.25","z":15,"v":0.0275},{"s":"0.25","z":15.5,"v":0.024},{"s":"0.25","z":16,"v":0.021},{"s":"0.25","z":16.5,"v":0.013},{"s":"0.25","z":17,"v":0.0095},{"s":"0.25","z":17.5,"v":0.0085},{"s":"0.25","z":18,"v":0.0075},{"s":"0.25","z":18.5,"v":0.0066},{"s":"0.25","z":19,"v":0.0058},{"s":"0.25","z":19.5,"v":0.0052},{"s":"0.25","z":20,"v":0.0048},{"s":"0.25","z":20.5,"v":0.0045},{"s":"0.25","z":21,"v":0.0044},{"s":"0.25","z":21.5,"v":0.0043},{"s":"0.25","z":22,"v":0.0044},{"s":"0.25","z":22.5,"v":0.0047},{"s":"0.25","z":23,"v":0.0053},{"s":"0.25","z":23.5,"v":0.0062},{"s":"0.25","z":24,"v":0.0075},{"s":"0.25","z":24.5,"v":0.0095},{"s":"0.25","z":25,"v":0.0125},{"s":"0.25","z":25.5,"v":0.0185},{"s":"0.25","z":26,"v":0.026},{"s":"0.25","z":26.5,"v":0.033},{"s":"0.25","z":27,"v":0.039},{"s":"0.25","z":27.5,"v":0.046},{"s":"0.25","z":28,"v":0.052},{"s":"0.25","z":28.5,"v":0.058},{"s":"0.25","z":29,"v":0.064},{"s":"0.25","z":29.5,"v":0.071},{"s":"0.25","z":30,"v":0.078},{"s":"0.25","z":30.5,"v":0.0835},{"s":"0.25","z":31,"v":0.0825},{"s":"0.25","z":31.5,"v":0.081},{"s":"0.25","z":32,"v":0.0815},{"s":"0.25","z":32.5,"v":0.074},{"s":"0.25","z":33,"v":0.065},{"s":"0.25","z":33.5,"v":0.057},{"s":"0.25","z":34,"v":0.049},{"s":"0.25","z":34.5,"v":0.0405},{"s":"0.25","z":35,"v":0.0315},{"s":"0.25","z":35.5,"v":0.024},{"s":"0.25","z":36,"v":0.0175},{"s":"0.25","z":36.5,"v":0.0125},{"s":"0.25","z":37,"v":0.0088},{"s":"0.25","z":37.5,"v":0.0062},{"s":"0.25","z":38,"v":0.0044},{"s":"0.25","z":38.5,"v":0.0031},{"s":"0.25","z":39,"v":0.0022},{"s":"0.25","z":39.5,"v":0.0016},{"s":"0.25","z":40,"v":0.0012},{"s":"0.25","z":40.5,"v":0.0009},{"s":"0.25","z":41,"v":0.0007},{"s":"0.25","z":41.5,"v":0.0006},{"s":"0.25","z":42,"v":0.0005},{"s":"0.25","z":42.5,"v":0.0005},{"s":"0.25","z":43,"v":0.0004},{"s":"0.25","z":43.5,"v":0.0004},
{"s":"0.50","z":1.5,"v":0},{"s":"0.50","z":2,"v":0.0012},{"s":"0.50","z":2.5,"v":0.0025},{"s":"0.50","z":3,"v":0.0045},{"s":"0.50","z":3.5,"v":0.006},{"s":"0.50","z":4,"v":0.0075},{"s":"0.50","z":4.5,"v":0.0095},{"s":"0.50","z":5,"v":0.012},{"s":"0.50","z":5.5,"v":0.017},{"s":"0.50","z":6,"v":0.0205},{"s":"0.50","z":6.5,"v":0.021},{"s":"0.50","z":7,"v":0.022},{"s":"0.50","z":7.5,"v":0.0228},{"s":"0.50","z":8,"v":0.0228},{"s":"0.50","z":8.5,"v":0.0222},{"s":"0.50","z":9,"v":0.022},{"s":"0.50","z":9.5,"v":0.0222},{"s":"0.50","z":10,"v":0.0236},{"s":"0.50","z":10.5,"v":0.026},{"s":"0.50","z":11,"v":0.029},{"s":"0.50","z":11.5,"v":0.0345},{"s":"0.50","z":12,"v":0.038},{"s":"0.50","z":12.5,"v":0.0392},{"s":"0.50","z":13,"v":0.0388},{"s":"0.50","z":13.5,"v":0.0355},{"s":"0.50","z":14,"v":0.0325},{"s":"0.50","z":14.5,"v":0.029},{"s":"0.50","z":15,"v":0.0267},{"s":"0.50","z":15.5,"v":0.0243},{"s":"0.50","z":16,"v":0.0225},{"s":"0.50","z":16.5,"v":0.0212},{"s":"0.50","z":17,"v":0.0175},{"s":"0.50","z":17.5,"v":0.0155},{"s":"0.50","z":18,"v":0.014},{"s":"0.50","z":18.5,"v":0.0126},{"s":"0.50","z":19,"v":0.0115},{"s":"0.50","z":19.5,"v":0.0103},{"s":"0.50","z":20,"v":0.0093},{"s":"0.50","z":20.5,"v":0.0085},{"s":"0.50","z":21,"v":0.0086},{"s":"0.50","z":21.5,"v":0.0095},{"s":"0.50","z":22,"v":0.0105},{"s":"0.50","z":22.5,"v":0.0113},{"s":"0.50","z":23,"v":0.0125},{"s":"0.50","z":23.5,"v":0.0155},{"s":"0.50","z":24,"v":0.019},{"s":"0.50","z":24.5,"v":0.0205},{"s":"0.50","z":25,"v":0.024},{"s":"0.50","z":25.5,"v":0.0285},{"s":"0.50","z":26,"v":0.034},{"s":"0.50","z":26.5,"v":0.041},{"s":"0.50","z":27,"v":0.048},{"s":"0.50","z":27.5,"v":0.054},{"s":"0.50","z":28,"v":0.0615},{"s":"0.50","z":28.5,"v":0.064},{"s":"0.50","z":29,"v":0.07},{"s":"0.50","z":29.5,"v":0.077},{"s":"0.50","z":30,"v":0.081},{"s":"0.50","z":30.5,"v":0.079},{"s":"0.50","z":31,"v":0.076},{"s":"0.50","z":31.5,"v":0.071},{"s":"0.50","z":32,"v":0.065},{"s":"0.50","z":32.5,"v":0.058},{"s":"0.50","z":33,"v":0.05},{"s":"0.50","z":33.5,"v":0.042},{"s":"0.50","z":34,"v":0.035},{"s":"0.50","z":34.5,"v":0.029},{"s":"0.50","z":35,"v":0.024},{"s":"0.50","z":35.5,"v":0.019},{"s":"0.50","z":36,"v":0.014},{"s":"0.50","z":36.5,"v":0.01},{"s":"0.50","z":37,"v":0.0075},{"s":"0.50","z":37.5,"v":0.0055},{"s":"0.50","z":38,"v":0.004},{"s":"0.50","z":38.5,"v":0.003},{"s":"0.50","z":39,"v":0.0022},{"s":"0.50","z":39.5,"v":0.0016},{"s":"0.50","z":40,"v":0.0012},{"s":"0.50","z":40.5,"v":0.001},{"s":"0.50","z":41,"v":0.0008},{"s":"0.50","z":41.5,"v":0.0006},{"s":"0.50","z":42,"v":0.0005},{"s":"0.50","z":42.5,"v":0.0004},{"s":"0.50","z":43,"v":0.0003},
{"s":"1.00","z":1.5,"v":0},{"s":"1.00","z":2,"v":0.002},{"s":"1.00","z":2.5,"v":0.006},{"s":"1.00","z":3,"v":0.0135},{"s":"1.00","z":3.5,"v":0.019},{"s":"1.00","z":4,"v":0.018},{"s":"1.00","z":4.5,"v":0.0185},{"s":"1.00","z":5,"v":0.019},{"s":"1.00","z":5.5,"v":0.019},{"s":"1.00","z":6,"v":0.0192},{"s":"1.00","z":6.5,"v":0.0188},{"s":"1.00","z":7,"v":0.0182},{"s":"1.00","z":7.5,"v":0.018},{"s":"1.00","z":8,"v":0.0175},{"s":"1.00","z":8.5,"v":0.0172},{"s":"1.00","z":9,"v":0.017},{"s":"1.00","z":9.5,"v":0.0172},{"s":"1.00","z":10,"v":0.0173},{"s":"1.00","z":10.5,"v":0.0172},{"s":"1.00","z":11,"v":0.0172},{"s":"1.00","z":11.5,"v":0.0174},{"s":"1.00","z":12,"v":0.0175},{"s":"1.00","z":12.5,"v":0.0177},{"s":"1.00","z":13,"v":0.0178},{"s":"1.00","z":13.5,"v":0.0178},{"s":"1.00","z":14,"v":0.0179},{"s":"1.00","z":14.5,"v":0.018},{"s":"1.00","z":15,"v":0.018},{"s":"1.00","z":15.5,"v":0.0182},{"s":"1.00","z":16,"v":0.0184},{"s":"1.00","z":16.5,"v":0.0186},{"s":"1.00","z":17,"v":0.0188},{"s":"1.00","z":17.5,"v":0.019},{"s":"1.00","z":18,"v":0.0192},{"s":"1.00","z":18.5,"v":0.0193},{"s":"1.00","z":19,"v":0.0195},{"s":"1.00","z":19.5,"v":0.0197},{"s":"1.00","z":20,"v":0.02},{"s":"1.00","z":20.5,"v":0.0205},{"s":"1.00","z":21,"v":0.021},{"s":"1.00","z":21.5,"v":0.0222},{"s":"1.00","z":22,"v":0.0235},{"s":"1.00","z":22.5,"v":0.025},{"s":"1.00","z":23,"v":0.0268},{"s":"1.00","z":23.5,"v":0.0288},{"s":"1.00","z":24,"v":0.031},{"s":"1.00","z":24.5,"v":0.0335},{"s":"1.00","z":25,"v":0.0365},{"s":"1.00","z":25.5,"v":0.04},{"s":"1.00","z":26,"v":0.044},{"s":"1.00","z":26.5,"v":0.0485},{"s":"1.00","z":27,"v":0.054},{"s":"1.00","z":27.5,"v":0.06},{"s":"1.00","z":28,"v":0.066},{"s":"1.00","z":28.5,"v":0.072},{"s":"1.00","z":29,"v":0.08},{"s":"1.00","z":29.5,"v":0.091},{"s":"1.00","z":30,"v":0.087},{"s":"1.00","z":30.5,"v":0.08},{"s":"1.00","z":31,"v":0.072},{"s":"1.00","z":31.5,"v":0.066},{"s":"1.00","z":32,"v":0.059},{"s":"1.00","z":32.5,"v":0.052},{"s":"1.00","z":33,"v":0.045},{"s":"1.00","z":33.5,"v":0.037},{"s":"1.00","z":34,"v":0.028},{"s":"1.00","z":34.5,"v":0.0195},{"s":"1.00","z":35,"v":0.0125},{"s":"1.00","z":35.5,"v":0.0075},{"s":"1.00","z":36,"v":0.0048},{"s":"1.00","z":36.5,"v":0.0033},{"s":"1.00","z":37,"v":0.0024},{"s":"1.00","z":37.5,"v":0.0018},{"s":"1.00","z":38,"v":0.0014},{"s":"1.00","z":38.5,"v":0.0011},{"s":"1.00","z":39,"v":0.0009},{"s":"1.00","z":39.5,"v":0.0007},{"s":"1.00","z":40,"v":0.0005},
{"s":"1.50","z":1.5,"v":0},{"s":"1.50","z":2,"v":0.0005},{"s":"1.50","z":2.5,"v":0.001},{"s":"1.50","z":3,"v":0.002},{"s":"1.50","z":3.5,"v":0.0035},{"s":"1.50","z":4,"v":0.005},{"s":"1.50","z":4.5,"v":0.0075},{"s":"1.50","z":5,"v":0.011},{"s":"1.50","z":5.5,"v":0.0145},{"s":"1.50","z":6,"v":0.017},{"s":"1.50","z":6.5,"v":0.0175},{"s":"1.50","z":7,"v":0.0165},{"s":"1.50","z":7.5,"v":0.0155},{"s":"1.50","z":8,"v":0.015},{"s":"1.50","z":8.5,"v":0.0145},{"s":"1.50","z":9,"v":0.0142},{"s":"1.50","z":9.5,"v":0.014},{"s":"1.50","z":10,"v":0.014},{"s":"1.50","z":10.5,"v":0.014},{"s":"1.50","z":11,"v":0.0142},{"s":"1.50","z":11.5,"v":0.0143},{"s":"1.50","z":12,"v":0.0145},{"s":"1.50","z":12.5,"v":0.0145},{"s":"1.50","z":13,"v":0.0146},{"s":"1.50","z":13.5,"v":0.0148},{"s":"1.50","z":14,"v":0.015},{"s":"1.50","z":14.5,"v":0.0152},{"s":"1.50","z":15,"v":0.0155},{"s":"1.50","z":15.5,"v":0.0158},{"s":"1.50","z":16,"v":0.0162},{"s":"1.50","z":16.5,"v":0.0166},{"s":"1.50","z":17,"v":0.017},{"s":"1.50","z":17.5,"v":0.0176},{"s":"1.50","z":18,"v":0.0183},{"s":"1.50","z":18.5,"v":0.0192},{"s":"1.50","z":19,"v":0.0202},{"s":"1.50","z":19.5,"v":0.0213},{"s":"1.50","z":20,"v":0.0225},{"s":"1.50","z":20.5,"v":0.0238},{"s":"1.50","z":21,"v":0.0252},{"s":"1.50","z":21.5,"v":0.0268},{"s":"1.50","z":22,"v":0.0285},{"s":"1.50","z":22.5,"v":0.0305},{"s":"1.50","z":23,"v":0.0325},{"s":"1.50","z":23.5,"v":0.0348},{"s":"1.50","z":24,"v":0.0372},{"s":"1.50","z":24.5,"v":0.0398},{"s":"1.50","z":25,"v":0.0425},{"s":"1.50","z":25.5,"v":0.0455},{"s":"1.50","z":26,"v":0.049},{"s":"1.50","z":26.5,"v":0.0525},{"s":"1.50","z":27,"v":0.058},{"s":"1.50","z":27.5,"v":0.065},{"s":"1.50","z":28,"v":0.072},{"s":"1.50","z":28.5,"v":0.0785},{"s":"1.50","z":29,"v":0.077},{"s":"1.50","z":29.5,"v":0.072},{"s":"1.50","z":30,"v":0.066},{"s":"1.50","z":30.5,"v":0.061},{"s":"1.50","z":31,"v":0.058},{"s":"1.50","z":31.5,"v":0.052},{"s":"1.50","z":32,"v":0.047},{"s":"1.50","z":32.5,"v":0.0425},{"s":"1.50","z":33,"v":0.038},{"s":"1.50","z":33.5,"v":0.034},{"s":"1.50","z":34,"v":0.0305},{"s":"1.50","z":34.5,"v":0.026},{"s":"1.50","z":35,"v":0.022},{"s":"1.50","z":35.5,"v":0.0183},{"s":"1.50","z":36,"v":0.015},{"s":"1.50","z":36.5,"v":0.012},{"s":"1.50","z":37,"v":0.0095},{"s":"1.50","z":37.5,"v":0.0073},{"s":"1.50","z":38,"v":0.0055},{"s":"1.50","z":38.5,"v":0.004},{"s":"1.50","z":39,"v":0.0029},{"s":"1.50","z":39.5,"v":0.002},{"s":"1.50","z":40,"v":0.0013},{"s":"1.50","z":40.5,"v":0.0008},{"s":"1.50","z":41,"v":0.0005},
{"s":"1.75","z":1.5,"v":0},{"s":"1.75","z":2,"v":0.0005},{"s":"1.75","z":2.5,"v":0.001},{"s":"1.75","z":3,"v":0.002},{"s":"1.75","z":3.5,"v":0.0035},{"s":"1.75","z":4,"v":0.005},{"s":"1.75","z":4.5,"v":0.0075},{"s":"1.75","z":5,"v":0.0105},{"s":"1.75","z":5.5,"v":0.013},{"s":"1.75","z":6,"v":0.0145},{"s":"1.75","z":6.5,"v":0.014},{"s":"1.75","z":7,"v":0.013},{"s":"1.75","z":7.5,"v":0.0125},{"s":"1.75","z":8,"v":0.012},{"s":"1.75","z":8.5,"v":0.0115},{"s":"1.75","z":9,"v":0.011},{"s":"1.75","z":9.5,"v":0.0108},{"s":"1.75","z":10,"v":0.0105},{"s":"1.75","z":10.5,"v":0.0105},{"s":"1.75","z":11,"v":0.0105},{"s":"1.75","z":11.5,"v":0.0106},{"s":"1.75","z":12,"v":0.0108},{"s":"1.75","z":12.5,"v":0.011},{"s":"1.75","z":13,"v":0.0112},{"s":"1.75","z":13.5,"v":0.0115},{"s":"1.75","z":14,"v":0.0118},{"s":"1.75","z":14.5,"v":0.0121},{"s":"1.75","z":15,"v":0.0125},{"s":"1.75","z":15.5,"v":0.013},{"s":"1.75","z":16,"v":0.0136},{"s":"1.75","z":16.5,"v":0.0143},{"s":"1.75","z":17,"v":0.0152},{"s":"1.75","z":17.5,"v":0.0163},{"s":"1.75","z":18,"v":0.0177},{"s":"1.75","z":18.5,"v":0.0193},{"s":"1.75","z":19,"v":0.0212},{"s":"1.75","z":19.5,"v":0.0233},{"s":"1.75","z":20,"v":0.0257},{"s":"1.75","z":20.5,"v":0.0283},{"s":"1.75","z":21,"v":0.0312},{"s":"1.75","z":21.5,"v":0.0342},{"s":"1.75","z":22,"v":0.0373},{"s":"1.75","z":22.5,"v":0.0405},{"s":"1.75","z":23,"v":0.0437},{"s":"1.75","z":23.5,"v":0.0468},{"s":"1.75","z":24,"v":0.0498},{"s":"1.75","z":24.5,"v":0.0527},{"s":"1.75","z":25,"v":0.0555},{"s":"1.75","z":25.5,"v":0.058},{"s":"1.75","z":26,"v":0.0605},{"s":"1.75","z":26.5,"v":0.063},{"s":"1.75","z":27,"v":0.0655},{"s":"1.75","z":27.5,"v":0.068},{"s":"1.75","z":28,"v":0.0695},{"s":"1.75","z":28.5,"v":0.069},{"s":"1.75","z":29,"v":0.0665},{"s":"1.75","z":29.5,"v":0.063},{"s":"1.75","z":30,"v":0.059},{"s":"1.75","z":30.5,"v":0.0545},{"s":"1.75","z":31,"v":0.0495},{"s":"1.75","z":31.5,"v":0.044},{"s":"1.75","z":32,"v":0.0385},{"s":"1.75","z":32.5,"v":0.033},{"s":"1.75","z":33,"v":0.028},{"s":"1.75","z":33.5,"v":0.0238},{"s":"1.75","z":34,"v":0.0205},{"s":"1.75","z":34.5,"v":0.018},{"s":"1.75","z":35,"v":0.0158},{"s":"1.75","z":35.5,"v":0.0138},{"s":"1.75","z":36,"v":0.012},{"s":"1.75","z":36.5,"v":0.0102},{"s":"1.75","z":37,"v":0.0085},{"s":"1.75","z":37.5,"v":0.0068},{"s":"1.75","z":38,"v":0.0053},{"s":"1.75","z":38.5,"v":0.004},{"s":"1.75","z":39,"v":0.003},{"s":"1.75","z":39.5,"v":0.0022},{"s":"1.75","z":40,"v":0.0015},{"s":"1.75","z":40.5,"v":0.001},{"s":"1.75","z":41,"v":0.0007},{"s":"1.75","z":41.5,"v":0.0005},{"s":"1.75","z":42,"v":0.0003},
{"s":"2.00","z":1.5,"v":0},{"s":"2.00","z":2,"v":0.0005},{"s":"2.00","z":2.5,"v":0.0015},{"s":"2.00","z":3,"v":0.003},{"s":"2.00","z":3.5,"v":0.018},{"s":"2.00","z":4,"v":0.006},{"s":"2.00","z":4.5,"v":0.0075},{"s":"2.00","z":5,"v":0.0095},{"s":"2.00","z":5.5,"v":0.0125},{"s":"2.00","z":6,"v":0.0155},{"s":"2.00","z":6.5,"v":0.0148},{"s":"2.00","z":7,"v":0.014},{"s":"2.00","z":7.5,"v":0.0133},{"s":"2.00","z":8,"v":0.0125},{"s":"2.00","z":8.5,"v":0.012},{"s":"2.00","z":9,"v":0.0118},{"s":"2.00","z":9.5,"v":0.0118},{"s":"2.00","z":10,"v":0.012},{"s":"2.00","z":10.5,"v":0.0124},{"s":"2.00","z":11,"v":0.0128},{"s":"2.00","z":11.5,"v":0.0131},{"s":"2.00","z":12,"v":0.0135},{"s":"2.00","z":12.5,"v":0.0138},{"s":"2.00","z":13,"v":0.0142},{"s":"2.00","z":13.5,"v":0.0145},{"s":"2.00","z":14,"v":0.015},{"s":"2.00","z":14.5,"v":0.0155},{"s":"2.00","z":15,"v":0.016},{"s":"2.00","z":15.5,"v":0.0164},{"s":"2.00","z":16,"v":0.0168},{"s":"2.00","z":16.5,"v":0.0172},{"s":"2.00","z":17,"v":0.0178},{"s":"2.00","z":17.5,"v":0.0186},{"s":"2.00","z":18,"v":0.0196},{"s":"2.00","z":18.5,"v":0.0207},{"s":"2.00","z":19,"v":0.022},{"s":"2.00","z":19.5,"v":0.0235},{"s":"2.00","z":20,"v":0.0252},{"s":"2.00","z":20.5,"v":0.027},{"s":"2.00","z":21,"v":0.029},{"s":"2.00","z":21.5,"v":0.0312},{"s":"2.00","z":22,"v":0.0335},{"s":"2.00","z":22.5,"v":0.036},{"s":"2.00","z":23,"v":0.0388},{"s":"2.00","z":23.5,"v":0.0418},{"s":"2.00","z":24,"v":0.045},{"s":"2.00","z":24.5,"v":0.0485},{"s":"2.00","z":25,"v":0.052},{"s":"2.00","z":25.5,"v":0.0555},{"s":"2.00","z":26,"v":0.0595},{"s":"2.00","z":26.5,"v":0.0635},{"s":"2.00","z":27,"v":0.0675},{"s":"2.00","z":27.5,"v":0.0735},{"s":"2.00","z":28,"v":0.079},{"s":"2.00","z":28.5,"v":0.083},{"s":"2.00","z":29,"v":0.082},{"s":"2.00","z":29.5,"v":0.078},{"s":"2.00","z":30,"v":0.073},{"s":"2.00","z":30.5,"v":0.067},{"s":"2.00","z":31,"v":0.061},{"s":"2.00","z":31.5,"v":0.055},{"s":"2.00","z":32,"v":0.049},{"s":"2.00","z":32.5,"v":0.043},{"s":"2.00","z":33,"v":0.037},{"s":"2.00","z":33.5,"v":0.031},{"s":"2.00","z":34,"v":0.0255},{"s":"2.00","z":34.5,"v":0.0208},{"s":"2.00","z":35,"v":0.0172},{"s":"2.00","z":35.5,"v":0.0145},{"s":"2.00","z":36,"v":0.0122},{"s":"2.00","z":36.5,"v":0.0103},{"s":"2.00","z":37,"v":0.0086},{"s":"2.00","z":37.5,"v":0.0071},{"s":"2.00","z":38,"v":0.0058},{"s":"2.00","z":38.5,"v":0.0047},{"s":"2.00","z":39,"v":0.0037},{"s":"2.00","z":39.5,"v":0.0029},{"s":"2.00","z":40,"v":0.0022},{"s":"2.00","z":40.5,"v":0.0016},{"s":"2.00","z":41,"v":0.0012},{"s":"2.00","z":41.5,"v":0.0009},{"s":"2.00","z":42,"v":0.0007},{"s":"2.00","z":42.5,"v":0.0005},{"s":"2.00","z":43,"v":0.0004}
],
"one": [{"k": 1}]
},
"vconcat": [
{
 "width": 334, "height": 222,
 "data": {"name": "a"},
 "resolve": {"axis": {"x": "independent", "y": "independent"}},
 "layer": [
  {"mark": {"type": "line", "strokeWidth": 1},
   "encoding": {
    "x": {"field": "z", "type": "quantitative", "scale": {"domain": [0, 45.5], "nice": false, "zero": false},
          "axis": {"orient": "bottom", "values": [0,2.5,5,7.5,10,12.5,15,17.5,20,22.5,25,27.5,30,32.5,35,37.5,40,42.5,45], "labels": false, "title": null, "tickSize": {"condition": {"test": "datum.value % 5 === 0", "value": -9}, "value": -4}}},
    "y": {"field": "v", "type": "quantitative", "scale": {"domain": [-0.0045, 0.1395], "nice": false, "zero": false},
          "axis": {"orient": "left", "values": [0,0.02,0.04,0.06,0.08,0.1,0.12], "title": null, "labelPadding": 10, "labelExpr": "abs(datum.value*25-round(datum.value*25))<0.01 ? format(datum.value,'.2f') : ''", "tickSize": {"condition": {"test": "abs(datum.value*25-round(datum.value*25))<0.01", "value": -6}, "value": -4}}},
    "stroke": {"field": "s", "type": "nominal", "scale": {"domain": ["0.25","0.50","1.00","1.50","1.75","2.00"], "range": ["#000000","#ed1c24","#2db34a","#2a5db0","#e8579b","#f2a1ad"]}}
   }},
  {"mark": {"type": "point", "filled": true, "opacity": 1, "strokeWidth": 1, "size": 40},
   "encoding": {
    "x": {"field": "z", "type": "quantitative", "axis": null},
    "y": {"field": "v", "type": "quantitative", "axis": null},
    "shape": {"field": "s", "type": "nominal", "scale": {"domain": ["0.25","0.50","1.00","1.50","1.75","2.00"], "range": ["circle","square","diamond","triangle-up","triangle-left","triangle-down"]}, "legend": {"orient": "none", "legendX": 272, "legendY": 51, "title": null}},
    "fill": {"field": "s", "type": "nominal", "scale": {"domain": ["0.25","0.50","1.00","1.50","1.75","2.00"], "range": ["#000000","#231f20","#2db34a","#1d2c6b","#e8579b","#231f20"]}},
    "stroke": {"field": "s", "type": "nominal"}
   }},
  {"data": {"values": [{"z": 0, "v": 0}]}, "mark": {"type": "point", "opacity": 0},
   "encoding": {
    "x": {"field": "z", "type": "quantitative", "axis": {"orient": "top", "values": [0,2.5,5,7.5,10,12.5,15,17.5,20,22.5,25,27.5,30,32.5,35,37.5,40,42.5,45], "labels": false, "title": null, "tickSize": {"condition": {"test": "datum.value % 5 === 0", "value": -9}, "value": -4}}},
    "y": {"field": "v", "type": "quantitative", "axis": {"orient": "right", "values": [0,0.02,0.04,0.06,0.08,0.1,0.12], "labels": false, "title": null, "tickSize": {"condition": {"test": "abs(datum.value*25-round(datum.value*25))<0.01", "value": -6}, "value": -4}}}
   }},
  {"data": {"name": "one"}, "mark": {"type": "text", "align": "left", "baseline": "middle", "fontSize": 19},
   "encoding": {"x": {"datum": 7.35, "type": "quantitative", "axis": null}, "y": {"datum": 0.1265, "type": "quantitative", "axis": null}, "text": {"value": "a) water"}}},
  {"data": {"name": "one"}, "mark": {"type": "text", "align": "left", "baseline": "middle", "fontSize": 20},
   "encoding": {"x": {"datum": 27.4, "type": "quantitative", "axis": null}, "y": {"datum": 0.1212, "type": "quantitative", "axis": null}, "text": {"value": "ε"}}},
  {"data": {"name": "one"}, "mark": {"type": "text", "align": "left", "baseline": "middle", "fontSize": 13},
   "encoding": {"x": {"datum": 28.65, "type": "quantitative", "axis": null}, "y": {"datum": 0.1135, "type": "quantitative", "axis": null}, "text": {"value": "w"}}},
  {"data": {"name": "one"}, "mark": {"type": "text", "align": "left", "baseline": "middle", "fontSize": 20},
   "encoding": {"x": {"datum": 30.5, "type": "quantitative", "axis": null}, "y": {"datum": 0.1212, "type": "quantitative", "axis": null}, "text": {"value": "[kcal/mole]"}}}
 ]
},
{
 "width": 334, "height": 222,
 "data": {"name": "b"},
 "resolve": {"axis": {"x": "independent", "y": "independent"}},
 "layer": [
  {"mark": {"type": "line", "strokeWidth": 1},
   "encoding": {
    "x": {"field": "z", "type": "quantitative", "scale": {"domain": [0, 45.5], "nice": false, "zero": false},
          "axis": {"orient": "bottom", "values": [0,2.5,5,7.5,10,12.5,15,17.5,20,22.5,25,27.5,30,32.5,35,37.5,40,42.5,45], "labels": false, "title": null, "tickSize": {"condition": {"test": "datum.value % 5 === 0", "value": -9}, "value": -4}}},
    "y": {"field": "v", "type": "quantitative", "scale": {"domain": [-0.0051, 0.0803], "nice": false, "zero": false},
          "axis": {"orient": "left", "values": [0,0.01,0.02,0.03,0.04,0.05,0.06,0.07], "title": "P(z)", "titlePadding": 3, "labelPadding": 10, "labelExpr": "abs(datum.value*50-round(datum.value*50))<0.01 ? format(datum.value,'.2f') : ''", "tickSize": {"condition": {"test": "abs(datum.value*50-round(datum.value*50))<0.01", "value": -6}, "value": -4}}},
    "stroke": {"field": "s", "type": "nominal"}
   }},
  {"mark": {"type": "point", "filled": true, "opacity": 1, "strokeWidth": 1, "size": 40},
   "encoding": {
    "x": {"field": "z", "type": "quantitative", "axis": null},
    "y": {"field": "v", "type": "quantitative", "axis": null},
    "shape": {"field": "s", "type": "nominal"},
    "fill": {"field": "s", "type": "nominal"},
    "stroke": {"field": "s", "type": "nominal"}
   }},
  {"data": {"values": [{"z": 0, "v": 0}]}, "mark": {"type": "point", "opacity": 0},
   "encoding": {
    "x": {"field": "z", "type": "quantitative", "axis": {"orient": "top", "values": [0,2.5,5,7.5,10,12.5,15,17.5,20,22.5,25,27.5,30,32.5,35,37.5,40,42.5,45], "labels": false, "title": null, "tickSize": {"condition": {"test": "datum.value % 5 === 0", "value": -9}, "value": -4}}},
    "y": {"field": "v", "type": "quantitative", "axis": {"orient": "right", "values": [0,0.01,0.02,0.03,0.04,0.05,0.06,0.07], "labels": false, "title": null, "tickSize": {"condition": {"test": "abs(datum.value*50-round(datum.value*50))<0.01", "value": -6}, "value": -4}}}
   }},
  {"data": {"name": "one"}, "mark": {"type": "text", "align": "left", "baseline": "middle", "fontSize": 19},
   "encoding": {"x": {"datum": 7.35, "type": "quantitative", "axis": null}, "y": {"datum": 0.0726, "type": "quantitative", "axis": null}, "text": {"value": "b) polymer backbone"}}}
 ]
},
{
 "width": 334, "height": 221,
 "data": {"name": "c"},
 "resolve": {"axis": {"x": "independent", "y": "independent"}},
 "layer": [
  {"mark": {"type": "line", "strokeWidth": 1},
   "encoding": {
    "x": {"field": "z", "type": "quantitative", "scale": {"domain": [0, 45.5], "nice": false, "zero": false},
          "axis": {"orient": "bottom", "values": [0,2.5,5,7.5,10,12.5,15,17.5,20,22.5,25,27.5,30,32.5,35,37.5,40,42.5,45], "title": "z [Å]", "titlePadding": 0, "labelPadding": 14, "labelExpr": "datum.value % 5 === 0 ? format(datum.value,'d') : ''", "tickSize": {"condition": {"test": "datum.value % 5 === 0", "value": -9}, "value": -4}}},
    "y": {"field": "v", "type": "quantitative", "scale": {"domain": [-0.0047, 0.0993], "nice": false, "zero": false},
          "axis": {"orient": "left", "values": [0,0.01,0.02,0.03,0.04,0.05,0.06,0.07,0.08,0.09], "title": null, "labelPadding": 10, "labelExpr": "abs(datum.value*50-round(datum.value*50))<0.01 ? format(datum.value,'.2f') : ''", "tickSize": {"condition": {"test": "abs(datum.value*50-round(datum.value*50))<0.01", "value": -6}, "value": -4}}},
    "stroke": {"field": "s", "type": "nominal"}
   }},
  {"mark": {"type": "point", "filled": true, "opacity": 1, "strokeWidth": 1, "size": 40},
   "encoding": {
    "x": {"field": "z", "type": "quantitative", "axis": null},
    "y": {"field": "v", "type": "quantitative", "axis": null},
    "shape": {"field": "s", "type": "nominal"},
    "fill": {"field": "s", "type": "nominal"},
    "stroke": {"field": "s", "type": "nominal"}
   }},
  {"data": {"values": [{"z": 0, "v": 0}]}, "mark": {"type": "point", "opacity": 0},
   "encoding": {
    "x": {"field": "z", "type": "quantitative", "axis": {"orient": "top", "values": [0,2.5,5,7.5,10,12.5,15,17.5,20,22.5,25,27.5,30,32.5,35,37.5,40,42.5,45], "labels": false, "title": null, "tickSize": {"condition": {"test": "datum.value % 5 === 0", "value": -9}, "value": -4}}},
    "y": {"field": "v", "type": "quantitative", "axis": {"orient": "right", "values": [0,0.01,0.02,0.03,0.04,0.05,0.06,0.07,0.08,0.09], "labels": false, "title": null, "tickSize": {"condition": {"test": "abs(datum.value*50-round(datum.value*50))<0.01", "value": -6}, "value": -4}}}
   }},
  {"data": {"name": "one"}, "mark": {"type": "text", "align": "left", "baseline": "middle", "fontSize": 19},
   "encoding": {"x": {"datum": 7.35, "type": "quantitative", "axis": null}, "y": {"datum": 0.0899, "type": "quantitative", "axis": null}, "text": {"value": "c) sulfur"}}}
 ]
}
]
}
